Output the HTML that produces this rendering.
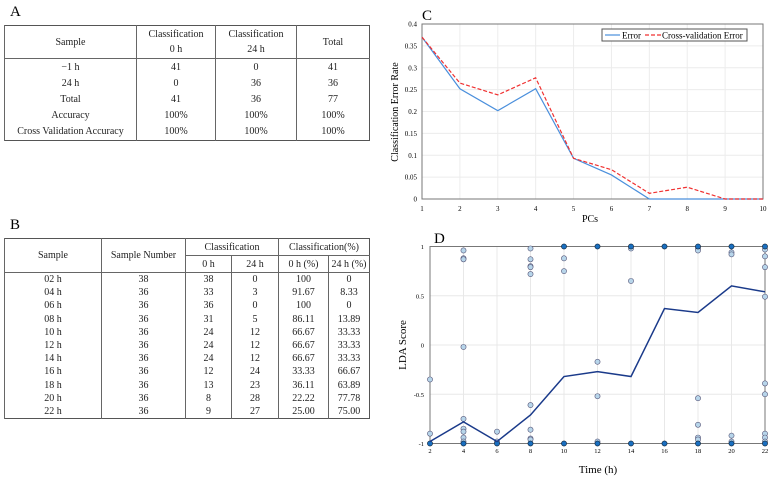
<!DOCTYPE html>
<html><head><meta charset="utf-8">
<style>
body{margin:0;width:772px;height:479px;background:#fff;font-family:"Liberation Serif",serif;position:relative;overflow:hidden}
.lbl{position:absolute;font-size:15px}
table{position:absolute;border-collapse:collapse;font-size:10px;text-align:center;color:#222}
table.ta{left:4px;top:25px;width:366px;border:1.5px solid #555}
table.ta td{padding:0;height:16.2px;border-left:1.5px solid #666}
table.ta tr.h td{height:32px;border-bottom:1.5px solid #666;line-height:15px}
table.tb{left:4px;top:238px;width:366px;border:1.5px solid #555}
table.tb td{padding:0;height:13.2px;line-height:13px;border-left:1.5px solid #666}
table.tb tr.h td{height:16px;border-bottom:1.5px solid #666}
table.tb tr.h1 td.s{border-bottom:1px solid #666}
</style></head><body>
<div class="lbl" style="left:10px;top:4px">A</div>
<table class="ta">
<tr class="h"><td style="width:131px">Sample</td><td style="width:78px">Classification<br>0 h</td><td style="width:80px">Classification<br>24 h</td><td>Total</td></tr>
<tr><td>−1 h</td><td>41</td><td>0</td><td>41</td></tr>
<tr><td>24 h</td><td>0</td><td>36</td><td>36</td></tr>
<tr><td>Total</td><td>41</td><td>36</td><td>77</td></tr>
<tr><td>Accuracy</td><td>100%</td><td>100%</td><td>100%</td></tr>
<tr><td>Cross Validation Accuracy</td><td>100%</td><td>100%</td><td>100%</td></tr>
</table>
<div class="lbl" style="left:10px;top:217px">B</div>
<table class="tb">
<tr class="h h1"><td rowspan="2" style="width:96px">Sample</td><td rowspan="2" style="width:83px">Sample Number</td><td colspan="2" class="s">Classification</td><td colspan="2" class="s">Classification(%)</td></tr>
<tr class="h"><td style="width:45px">0 h</td><td style="width:46px">24 h</td><td style="width:49px">0 h (%)</td><td>24 h (%)</td></tr>
<tr><td>02 h</td><td>38</td><td>38</td><td>0</td><td>100</td><td>0</td></tr>
<tr><td>04 h</td><td>36</td><td>33</td><td>3</td><td>91.67</td><td>8.33</td></tr>
<tr><td>06 h</td><td>36</td><td>36</td><td>0</td><td>100</td><td>0</td></tr>
<tr><td>08 h</td><td>36</td><td>31</td><td>5</td><td>86.11</td><td>13.89</td></tr>
<tr><td>10 h</td><td>36</td><td>24</td><td>12</td><td>66.67</td><td>33.33</td></tr>
<tr><td>12 h</td><td>36</td><td>24</td><td>12</td><td>66.67</td><td>33.33</td></tr>
<tr><td>14 h</td><td>36</td><td>24</td><td>12</td><td>66.67</td><td>33.33</td></tr>
<tr><td>16 h</td><td>36</td><td>12</td><td>24</td><td>33.33</td><td>66.67</td></tr>
<tr><td>18 h</td><td>36</td><td>13</td><td>23</td><td>36.11</td><td>63.89</td></tr>
<tr><td>20 h</td><td>36</td><td>8</td><td>28</td><td>22.22</td><td>77.78</td></tr>
<tr><td>22 h</td><td>36</td><td>9</td><td>27</td><td>25.00</td><td>75.00</td></tr>
</table>
<svg id="svg" width="772" height="479" style="position:absolute;left:0;top:0" font-family="Liberation Serif, serif"></svg>
<script>
const pcs=[1,2,3,4,5,6,7,8,9,10];
const errVals=[0.37,0.252,0.202,0.252,0.093,0.055,0,0,0,0];
const cvVals=[0.37,0.265,0.238,0.277,0.093,0.067,0.013,0.027,0,0];
const cTicks=[0,0.05,0.1,0.15,0.2,0.25,0.3,0.35,0.4];
const times=[2,4,6,8,10,12,14,16,18,20,22];
const meanLda=[-0.98,-0.78,-0.98,-0.71,-0.32,-0.27,-0.32,0.37,0.33,0.6,0.54];
const ptTime=[2,2,4,4,4,4,4,4,4,4,4,6,6,8,8,8,8,8,8,8,8,8,10,10,12,12,12,14,14,18,18,18,18,18,18,20,20,20,20,22,22,22,22,22,22,22,22,22];
const ptScore=[-0.35,-0.9,0.96,0.88,0.87,-0.02,-0.75,-0.85,-0.88,-0.94,-0.98,-0.88,-0.98,0.98,0.87,0.8,0.79,0.72,-0.61,-0.86,-0.95,-0.96,0.88,0.75,-0.17,-0.52,-0.98,0.98,0.65,0.98,0.96,-0.54,-0.81,-0.94,-0.96,0.94,0.92,-0.92,-0.98,0.97,0.9,0.79,0.49,-0.39,-0.5,-0.9,-0.94,-0.98];
const dkTime=[2,4,6,8,10,10,12,12,14,14,16,16,18,18,20,20,22,22];
const dkScore=[-1,-1,-1,-1,1,-1,1,-1,1,-1,1,-1,1,-1,1,-1,1,-1];
const dTicks=[-1,-0.5,0,0.5,1];
const S=document.getElementById('svg');const NS='http://www.w3.org/2000/svg';
function mk(t,a,txt){const e=document.createElementNS(NS,t);for(const k in a)e.setAttribute(k,a[k]);if(txt!==undefined)e.textContent=txt;S.appendChild(e);return e;}
// Chart C
const cx=v=>422+(v-1)*(763-422)/9, cy=v=>199-v*(199-24)/0.4;
let e;
e=mk('text',{x:422,y:20,'font-size':15},'C');
cTicks.forEach(t=>{e=mk('line',{x1:422,x2:763,y1:cy(t),y2:cy(t),stroke:'#ececec'});
e=mk('text',{x:417,y:cy(t)+2.5,'font-size':7,'text-anchor':'end'},String(t));});
pcs.forEach(p=>{e=mk('line',{x1:cx(p),x2:cx(p),y1:24,y2:199,stroke:'#ececec'});
e=mk('text',{x:cx(p),y:211,'font-size':7,'text-anchor':'middle'},String(p));});
e=mk('rect',{x:422,y:24,width:341,height:175,fill:'none',stroke:'#777'});
e=mk('polyline',{points:pcs.map((p,i)=>cx(p)+','+cy(errVals[i])).join(' '),fill:'none',stroke:'#4a8fdc','stroke-width':1.2});
e=mk('polyline',{points:pcs.map((p,i)=>cx(p)+','+cy(cvVals[i])).join(' '),fill:'none',stroke:'#f03030','stroke-width':1.2,'stroke-dasharray':'4,2'});
e=mk('rect',{x:602,y:29,width:145,height:12,fill:'#fff',stroke:'#555'});
mk('line',{x1:605,x2:620,y1:35,y2:35,stroke:'#4a8fdc','stroke-width':1.2});
e=mk('text',{x:622,y:38.5,'font-size':9},'Error');
mk('line',{x1:645,x2:661,y1:35,y2:35,stroke:'#f03030','stroke-width':1.2,'stroke-dasharray':'4,2'});
e=mk('text',{x:662,y:38.5,'font-size':9},'Cross-validation Error');
e=mk('text',{x:590,y:222,'font-size':10,'text-anchor':'middle'},'PCs');
e=mk('text',{x:0,y:0,'font-size':10,'text-anchor':'middle',transform:'translate(398,112) rotate(-90)'},'Classification Error Rate');
// Chart D
const dx=v=>430+(v-2)*(765-430)/20, dy=v=>345-v*98.5;
e=mk('text',{x:434,y:243,'font-size':15},'D');
dTicks.forEach(t=>{e=mk('line',{x1:430,x2:765,y1:dy(t),y2:dy(t),stroke:'#e8e8e8'});
e=mk('text',{x:424,y:dy(t)+2.5,'font-size':6.5,'text-anchor':'end'},String(t));});
times.forEach(t=>{e=mk('line',{x1:dx(t),x2:dx(t),y1:dy(1),y2:dy(-1),stroke:'#e8e8e8'});
e=mk('text',{x:dx(t),y:453,'font-size':6.5,'text-anchor':'middle'},String(t));});
e=mk('rect',{x:430,y:dy(1),width:335,height:dy(-1)-dy(1),fill:'none',stroke:'#777'});
ptTime.forEach((t,i)=>{e=mk('circle',{cx:dx(t),cy:dy(ptScore[i]),r:2.6,fill:'#b7d5ea',stroke:'#557',"stroke-width":0.6});});
dkTime.forEach((t,i)=>{e=mk('circle',{cx:dx(t),cy:dy(dkScore[i]),r:2.6,fill:'#1a6fc0',stroke:'#123',"stroke-width":0.6});});
e=mk('polyline',{points:times.map((t,i)=>dx(t)+','+dy(meanLda[i])).join(' '),fill:'none',stroke:'#1a3a8a','stroke-width':1.5});
e=mk('text',{x:598,y:473,'font-size':11,'text-anchor':'middle'},'Time (h)');
e=mk('text',{x:0,y:0,'font-size':11,'text-anchor':'middle',transform:'translate(406,345) rotate(-90)'},'LDA Score');
</script>
</body></html>
